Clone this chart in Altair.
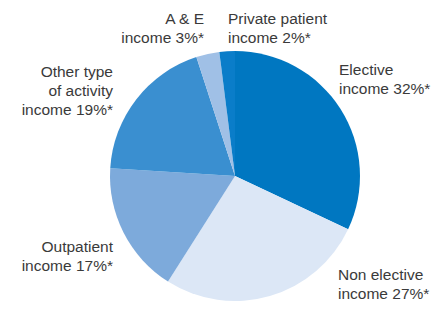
import altair as alt
import pandas as pd

categories = ["Elective", "Non elective", "Outpatient", "Other type of activity", "A & E", "Private patient"]
values = [32, 27, 17, 19, 3, 2]
colors = ["#0077C1", "#DCE7F6", "#7DAADB", "#3A8FD0", "#A0C0E6", "#0A7DC9"]
labels = [
    "Elective\nincome 32%*",
    "Non elective\nincome 27%*",
    "Outpatient\nincome 17%*",
    "Other type\nof activity\nincome 19%*",
    "A & E\nincome 3%*",
    "Private patient\nincome 2%*",
]

df = pd.DataFrame({"category": categories, "value": values, "idx": list(range(len(categories)))})

# label layout (chart pixel coordinates, first-line baseline)
layout = {
    "Elective": (331, 67, "left"),
    "Non elective": (330, 272, "left"),
    "Outpatient": (105, 244, "right"),
    "Other type of activity": (105, 69, "right"),
    "A & E": (196, 16, "right"),
    "Private patient": (220, 16, "left"),
}

pie = alt.Chart(df).mark_arc(radius=125, stroke=None).encode(
    theta=alt.Theta("value:Q", stack=True),
    order=alt.Order("idx:Q"),
    color=alt.Color("category:N", scale=alt.Scale(domain=categories, range=colors), legend=None, sort=None),
    x=alt.value(227),
    y=alt.value(168),
)

layers = [pie]
for cat, lab in zip(categories, labels):
    x, y, align = layout[cat]
    layers.append(
        alt.Chart(pd.DataFrame({"t": [lab]})).mark_text(
            align=align, baseline="alphabetic", lineBreak="\n", lineHeight=19,
            font="Liberation Sans", fontSize=15.5, color="#3A3A3A",
        ).encode(text="t:N", x=alt.value(x), y=alt.value(y))
    )

chart = alt.layer(*layers).properties(
    width=424, height=293, padding=0, autosize=alt.AutoSizeParams(type="none")
).configure_view(stroke=None)

chart.save("out.html", embed_options={"renderer": "svg", "actions": False})
